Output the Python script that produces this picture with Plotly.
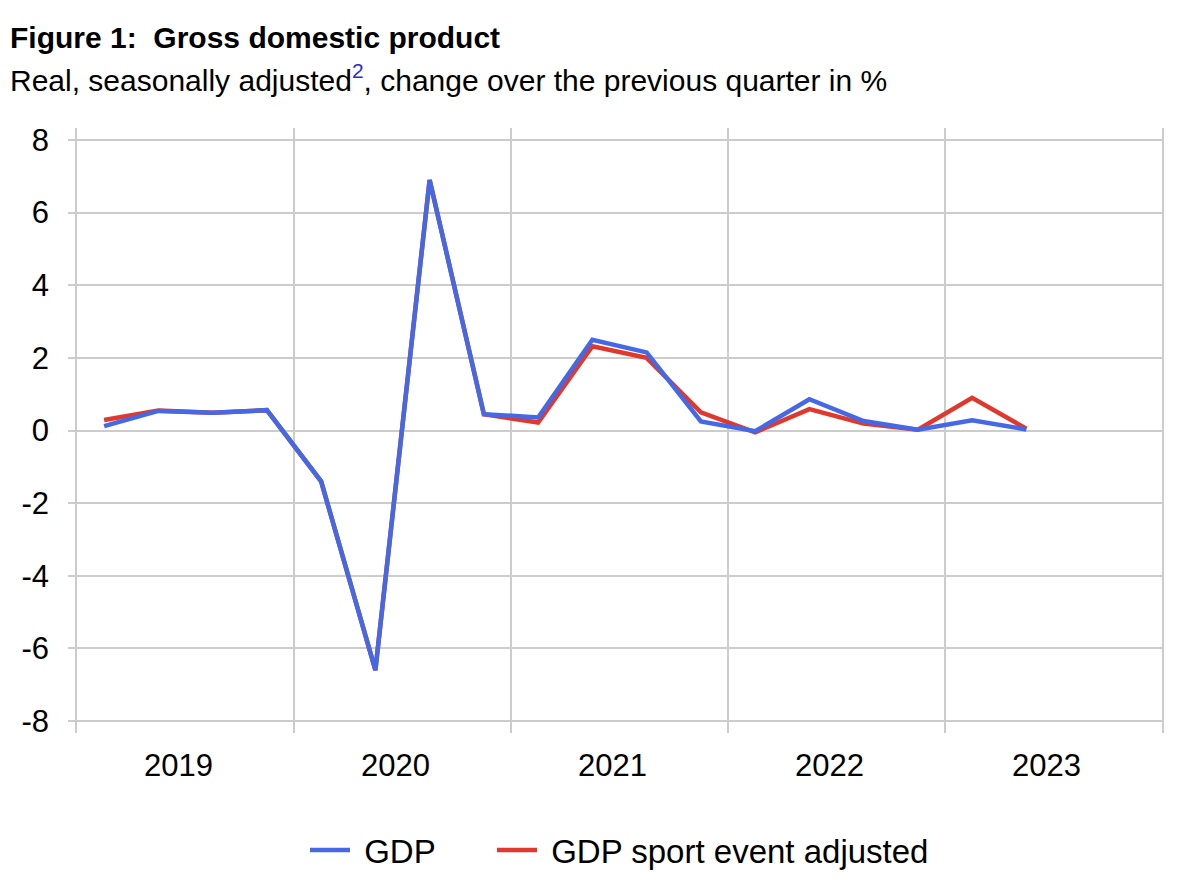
import plotly.graph_objects as go

quarters = ["2019Q1", "2019Q2", "2019Q3", "2019Q4",
            "2020Q1", "2020Q2", "2020Q3", "2020Q4",
            "2021Q1", "2021Q2", "2021Q3", "2021Q4",
            "2022Q1", "2022Q2", "2022Q3", "2022Q4",
            "2023Q1", "2023Q2"]
gdp = [0.12, 0.54, 0.49, 0.56, -1.4, -6.6, 6.9, 0.45,
       0.36, 2.5, 2.15, 0.25, -0.02, 0.86, 0.26, 0.02, 0.28, 0.03]
gdp_adj = [0.29, 0.55, 0.49, 0.56, -1.4, -6.6, 6.9, 0.45,
           0.22, 2.32, 2.0, 0.5, -0.05, 0.59, 0.19, 0.02, 0.9, 0.05]
years = ["2019", "2020", "2021", "2022", "2023"]
y_ticks = [8, 6, 4, 2, 0, -2, -4, -6, -8]

# position of each quarter: centred inside its quarter slot (4 slots per year)
x_pos = [i + 0.5 for i in range(len(quarters))]
LABEL_SHIFT = 0.13  # year labels sit slightly left of the year's centre
year_centres = [4 * i + 2 - LABEL_SHIFT for i in range(len(years))]
year_bounds = [4 * i for i in range(1, len(years))]

FONT = "Liberation Sans, Arial, sans-serif"
BLUE = "#4569E6"
RED = "#E0382C"
GRID = "#cccccc"

L, R, T, B = 69, 46, 120, 155
PW = 1200 - L - R
PH = 880 - T - B
LEG_Y = -(842 - (T + PH)) / PH

fig = go.Figure()
fig.add_trace(go.Scatter(x=x_pos, y=gdp_adj, mode="lines", name="\u00a0GDP sport event adjusted",
                         line=dict(color=RED, width=4.5), hovertext=quarters, legend="legend2"))
fig.add_trace(go.Scatter(x=x_pos, y=gdp, mode="lines", name="\u00a0GDP",
                         line=dict(color=BLUE, width=4.5), hovertext=quarters, legend="legend"))

leg_common = dict(orientation="h", yanchor="middle", y=LEG_Y, xanchor="left",
                  font=dict(size=33), itemwidth=40, bgcolor="rgba(0,0,0,0)")

fig.update_layout(
    width=1200, height=880,
    margin=dict(l=L, r=R, t=T, b=B, autoexpand=False),
    paper_bgcolor="white", plot_bgcolor="white",
    font=dict(family=FONT, color="black", size=31),
    showlegend=True,
    legend=dict(x=(302 - 5 - L) / PW, **leg_common),
    legend2=dict(x=(489 - 5 - L) / PW, **leg_common),
    xaxis=dict(range=[0, 4 * len(years)], tickvals=year_centres, ticktext=years,
               showgrid=False, zeroline=False, ticks="", showline=False,
               ticklabelstandoff=11, tickfont=dict(size=31),
               minor=dict(tickvals=year_bounds, showgrid=True, gridcolor=GRID, gridwidth=1.5)),
    yaxis=dict(range=[-8.33, 8.33], tickvals=y_ticks, ticktext=[str(v) for v in y_ticks],
               showgrid=True, gridcolor=GRID, gridwidth=1.5, zeroline=False,
               ticks="outside", ticklen=7, tickcolor=GRID, tickwidth=1.5,
               showline=True, mirror=True, linecolor=GRID, linewidth=1.5,
               ticklabelstandoff=13, tickfont=dict(size=31)),
)

fig.add_annotation(text="<b>Figure 1:  Gross domestic product</b>", xref="paper", yref="paper",
                   x=-L / PW, y=1 + (T - 29) / PH, xanchor="left", yanchor="middle",
                   showarrow=False, font=dict(size=30, family=FONT, color="black"))
fig.add_annotation(text="Real, seasonally adjusted<span style='color:#2a2ad4'><sup>2</sup></span>, change over the previous quarter in %",
                   xref="paper", yref="paper",
                   x=-L / PW, y=1 + (T - 70) / PH, xanchor="left", yanchor="middle",
                   showarrow=False, font=dict(size=30, family=FONT, color="black"))

fig.write_html("out.html")
